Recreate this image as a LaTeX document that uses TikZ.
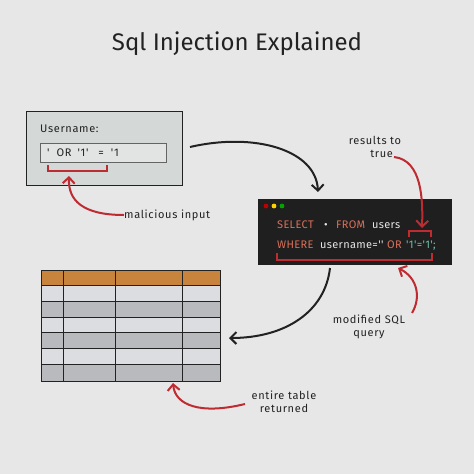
\documentclass[tikz,border=0pt]{standalone}
\usepackage{fontspec}
\setmainfont{Fira Sans}
\newfontfamily\spacedfont[LetterSpace=6]{Fira Sans}
\newfontfamily\codefont[LetterSpace=3]{Fira Sans}
\usetikzlibrary{arrows.meta}
\definecolor{bg}{HTML}{E7E7E7}
\definecolor{ink}{HTML}{222222}
\definecolor{redc}{HTML}{BE2B31}
\definecolor{boxfill}{HTML}{D4D8D7}
\definecolor{fieldfill}{HTML}{E2E4E4}
\definecolor{termbg}{HTML}{1F1F1F}
\definecolor{kw}{HTML}{D9705A}
\definecolor{tw}{HTML}{E6E6E6}
\definecolor{teal}{HTML}{6CC0A8}
\definecolor{orangeh}{HTML}{C8843C}
\definecolor{rowlight}{HTML}{DCDDE0}
\definecolor{rowdark}{HTML}{B8BABE}
\tikzset{
  blackarrow/.style={draw=ink, line width=2pt, -{Straight Barb[length=6pt,width=12pt]}},
  redarrow/.style={draw=redc, line width=2pt, -{Straight Barb[length=6pt,width=12pt]}},
  redbracket/.style={draw=redc, line width=1.6pt},
  label/.style={font=\spacedfont\fontsize{11}{13.5}\selectfont, text=ink, align=center, inner sep=0pt},
  code/.style={font=\codefont\fontsize{11}{13}\selectfont, inner sep=0pt, anchor=base west},
}
\begin{document}
\begin{tikzpicture}[x=1pt,y=-1pt]
\fill[bg] (0,0) rectangle (474,474);
\useasboundingbox (0,0) rectangle (474,474);
% title
\node[font=\fontsize{24}{27}\selectfont, text=ink, inner sep=0pt] (title) at (237,44) {Sql Injection Explained};
% username box
\node[draw=ink, line width=1.2pt, fill=boxfill, minimum width=156pt, minimum height=74pt, anchor=north west, inner sep=0pt] (user) at (26,111) {};
\node[label, anchor=west] (ulabel) at (40,129) {Username:};
\node[draw=ink!70, line width=0.9pt, fill=fieldfill, minimum width=126pt, minimum height=19pt, anchor=north west, inner sep=0pt] (field) at (40,143) {};
\node[label, anchor=west] (ftext) at (47,153) {'\hspace{7pt}OR\hspace{6pt}'1'\hspace{10pt}=\hspace{7pt}'1};
\draw[redbracket] (48,165) -- (48,171) -- (107,171) -- (107,165);
% malicious input
\node[label, anchor=west] (mal) at (124,215) {malicious input};
\draw[redarrow] (mal.west) .. controls (82,215) and (68,200) .. (69,176);
% terminal
\node[fill=termbg, minimum width=194pt, minimum height=66pt, anchor=north west, inner sep=0pt] (term) at (258,199) {};
\fill[red!75!black] (266,206) circle (2.4);
\fill[yellow!70!orange] (274,206) circle (2.4);
\fill[green!65!black] (282,206) circle (2.4);
\node[code, text=kw] (s1) at (277,228) {SELECT};
\node[code, text=tw] (s2) at (324,228) {•};
\node[code, text=kw] (s3) at (336,228) {FROM};
\node[code, text=tw] (s4) at (372,228) {users};
\node[code, text=kw] (w1) at (277,248) {WHERE};
\node[code, text=tw] (w2) at (320,248) {username=''};
\node[code, text=kw] (w3) at (387,248) {OR};
\node[code, text=teal] (w4) at (406,248) {'1'='1';};
\draw[redbracket] (409,237) -- (409,231) -- (431,231) -- (431,237);
\draw[redbracket] (277,253) -- (277,260) -- (432,260) -- (432,253);
% results to true
\node[label] (res) at (375,147) {results to\\ \hspace*{1.2em}true};
\draw[redarrow] (394,157) .. controls (422,160) and (423,200) .. (422,228);
% black arrow 1
\draw[blackarrow] (190,147) .. controls (255,132) and (316,150) .. (318,192);
% modified SQL query
\node[label] (mod) at (369,327) {modified SQL\\query};
\draw[redarrow] (412,313) .. controls (421,298) and (418,278) .. (398,268);
% table
\fill[orangeh] (41,270) rectangle (220,285);
\foreach \ya/\yb/\c in {285/301/rowlight,301/317/rowdark,317/332/rowlight,332/348/rowdark,348/364/rowlight,364/381/rowdark}{
  \fill[\c] (41,\ya) rectangle (220,\yb);
}
\foreach \yy in {285,301,317,332,348,364}{\draw[ink, line width=1pt] (41,\yy) -- (220,\yy);}
\foreach \xx in {63,115,182}{\draw[ink, line width=1pt] (\xx,270) -- (\xx,381);}
\node[draw=ink, line width=1.2pt, minimum width=179pt, minimum height=111pt, anchor=north west, inner sep=0pt] (table) at (41,270) {};
% black arrow 2
\draw[blackarrow] (330,268) .. controls (325,312) and (285,338) .. (229,338);
% entire table returned
\node[label] (ent) at (284,402) {entire table\\returned};
\draw[redarrow] (245,404) .. controls (200,415) and (175,405) .. (173,383);
\end{tikzpicture}
\end{document}
